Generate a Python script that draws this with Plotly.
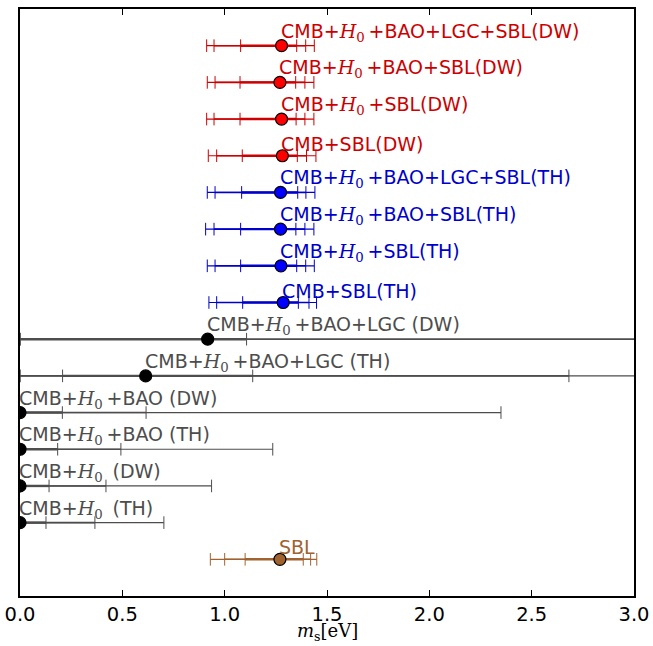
import plotly.graph_objects as go

H0 = '<span style="font-family:DejaVu Serif"><i>H</i><sub>0</sub></span>\u2009'
labels = [
    f"CMB+{H0}+BAO+LGC+SBL(DW)",
    f"CMB+{H0}+BAO+SBL(DW)",
    f"CMB+{H0}+SBL(DW)",
    "CMB+SBL(DW)",
    f"CMB+{H0}+BAO+LGC+SBL(TH)",
    f"CMB+{H0}+BAO+SBL(TH)",
    f"CMB+{H0}+SBL(TH)",
    "CMB+SBL(TH)",
    f"CMB+{H0}+BAO+LGC (DW)",
    f"CMB+{H0}+BAO+LGC (TH)",
    f"CMB+{H0}+BAO (DW)",
    f"CMB+{H0}+BAO (TH)",
    f"CMB+{H0} (DW)",
    f"CMB+{H0} (TH)",
    "SBL",
]
rows = [15, 14, 13, 12, 11, 10, 9, 8, 7, 6, 5, 4, 3, 2, 1]
groups = ["DW"] * 4 + ["TH"] * 4 + ["cos"] * 6 + ["SBL"]

best = [1.278, 1.270, 1.278, 1.282, 1.273, 1.273, 1.275, 1.286, 0.917, 0.614, 0.0, 0.0, 0.0, 0.0, 1.27]
lo1 = [1.078, 1.075, 1.075, 1.086, 1.083, 1.078, 1.078, 1.088, 0.0, 0.208, 0.0, 0.0, 0.0, 0.0, 1.10]
hi1 = [1.352, 1.347, 1.349, 1.355, 1.357, 1.348, 1.352, 1.360, 1.107, 1.137, 0.207, 0.184, 0.142, 0.127, 1.384]
lo2 = [0.948, 0.953, 0.948, 0.961, 0.953, 0.948, 0.953, 0.961, 0.0, 0.0, 0.0, 0.0, 0.0, 0.0, 1.00]
hi2 = [1.396, 1.392, 1.392, 1.400, 1.397, 1.392, 1.396, 1.412, 3.5, 2.682, 0.616, 0.493, 0.420, 0.366, 1.42]
lo3 = [0.912, 0.915, 0.912, 0.920, 0.915, 0.907, 0.915, 0.923, 0.0, 0.0, 0.0, 0.0, 0.0, 0.0, 0.93]
hi3 = [1.438, 1.436, 1.436, 1.446, 1.441, 1.436, 1.438, 1.449, 3.5, 3.5, 2.35, 1.235, 0.936, 0.703, 1.45]

xticks = [0.0, 0.5, 1.0, 1.5, 2.0, 2.5, 3.0]
x_title = '<span style="font-family:DejaVu Serif"><i>m</i><sub>s</sub>[eV]</span>'

line_col = {"DW": "#cc0000", "TH": "#0000cc", "cos": "#4d4d4d", "SBL": "#a0632f"}
dot_col = {"DW": "#ff0000", "TH": "#0000ff", "cos": "#000000", "SBL": "#a0632f"}
text_col = {"DW": "#cc0000", "TH": "#0000cc", "cos": "#4d4d4d", "SBL": "#a0632f"}

fig = go.Figure()
for i in range(len(rows)):
    g = groups[i]
    y = rows[i]
    for lo, hi, w in ((lo3, hi3, 1.2), (lo2, hi2, 1.6), (lo1, hi1, 2.4)):
        fig.add_trace(go.Scatter(
            x=[lo[i], hi[i]], y=[y, y], mode="lines+markers",
            line=dict(color=line_col[g], width=w),
            marker=dict(symbol="line-ns-open", size=9,
                        line=dict(color=line_col[g], width=1)),
            hoverinfo="skip", showlegend=False))
    fig.add_trace(go.Scatter(
        x=[best[i]], y=[y], mode="markers", cliponaxis=True,
        marker=dict(size=12, color=dot_col[g], line=dict(color="black", width=1.2)),
        showlegend=False))
    fig.add_annotation(x=best[i], y=y, text=labels[i], showarrow=False,
                       xanchor="left", yanchor="bottom", xshift=-3, yshift=-1,
                       font=dict(family="DejaVu Sans", size=19, color=text_col[g]))

fig.add_annotation(x=0.5, y=-0.062, xref="paper", yref="paper", text=x_title,
                   showarrow=False, xanchor="center", yanchor="middle", borderpad=0,
                   font=dict(size=18, color="black"))

fig.update_layout(
    width=653, height=646,
    margin=dict(l=20, r=19, t=9, b=50),
    paper_bgcolor="white", plot_bgcolor="white",
    font=dict(family="DejaVu Sans", size=19.5, color="black"),
    xaxis=dict(range=[0, 3], tickvals=xticks, ticktext=[f"{v:.1f}" for v in xticks],
               ticks="inside", ticklen=6, tickwidth=1, tickcolor="black",
               showline=True, linecolor="black", linewidth=1.5, mirror="ticks",
               showgrid=False, zeroline=False, automargin=False),
    yaxis=dict(range=[0, 16], showticklabels=False, ticks="",
               showline=True, linecolor="black", linewidth=1.5, mirror=True,
               showgrid=False, zeroline=False, automargin=False),
)
fig.write_html("out.html")
